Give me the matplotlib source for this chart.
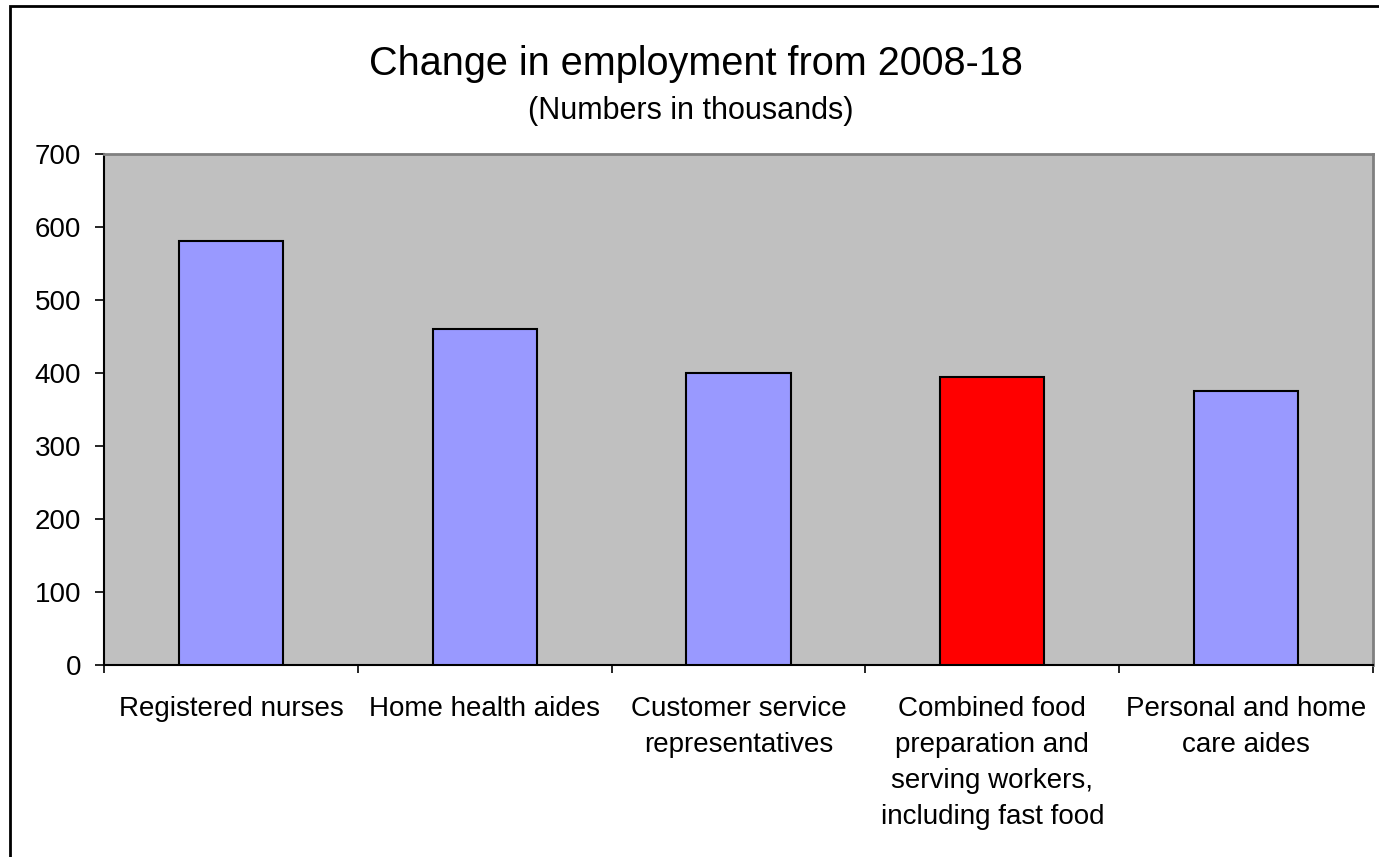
import matplotlib.pyplot as plt
from matplotlib.patches import Rectangle

categories = [
    "Registered nurses",
    "Home health aides",
    "Customer service\nrepresentatives",
    "Combined food\npreparation and\nserving workers,\nincluding fast food",
    "Personal and home\ncare aides",
]
change = [581.5, 460.9, 399.5, 394.3, 375.8]
colors = ["#9999FF", "#9999FF", "#9999FF", "#FF0000", "#9999FF"]
yticks = [0, 100, 200, 300, 400, 500, 600, 700]

plt.rcParams["font.family"] = ["Liberation Sans", "DejaVu Sans"]

fig = plt.figure(figsize=(13.79, 8.57), dpi=100)
ax = fig.add_axes([0.0754, 0.224, 0.9203, 0.5963])

x = range(len(categories))
ax.bar(x, change, width=0.41, color=colors, edgecolor="black", linewidth=1.5, zorder=3)

ax.set_facecolor("#C0C0C0")
ax.set_xlim(-0.5, len(categories) - 0.5)
ax.set_ylim(0, 700)
ax.set_yticks(yticks)
ax.tick_params(axis="y", labelsize=20, length=6.5, width=1.2, pad=10)

# category labels centred, ticks on the boundaries
ax.set_xticks(list(x))
ax.set_xticklabels(categories, fontsize=20, linespacing=1.5, va="top")
ax.tick_params(axis="x", length=0, pad=22)
ax.set_xticks([i - 0.5 for i in range(len(categories) + 1)], minor=True)
ax.tick_params(axis="x", which="minor", length=6, width=1.2)

for side in ["top", "right"]:
    ax.spines[side].set_color("#808080")
    ax.spines[side].set_linewidth(2)
for side in ["left", "bottom"]:
    ax.spines[side].set_color("black")
    ax.spines[side].set_linewidth(1.5)

fig.text(0.505, 0.925, "Change in employment from 2008-18", fontsize=28.5,
         ha="center", va="center")
fig.text(0.501, 0.871, "(Numbers in thousands)", fontsize=22,
         ha="center", va="center")

# outer chart border (cut off at right and bottom)
fig.patches.append(Rectangle((10 / 1379, -0.1), 1.2, 1.1 - 6 / 857,
                             transform=fig.transFigure, fill=False,
                             edgecolor="black", linewidth=2))

fig.savefig("out.png", dpi=100)
plt.close(fig)
